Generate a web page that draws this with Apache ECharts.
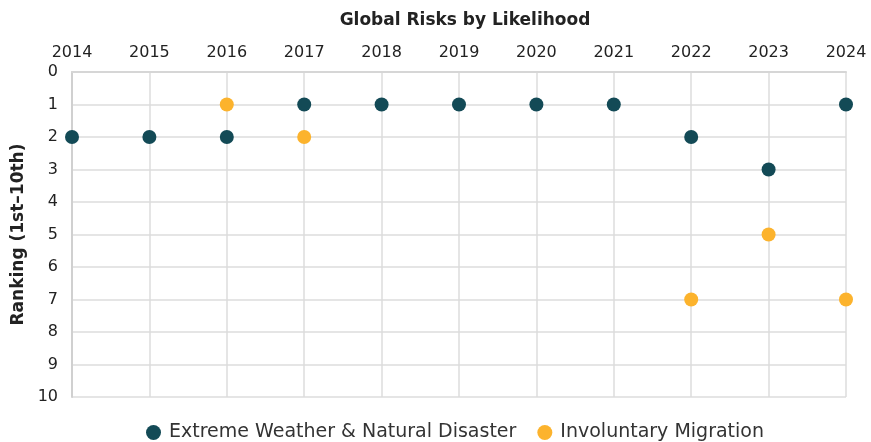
<!DOCTYPE html>
<html><head><meta charset="utf-8">
<script src="https://cdn.jsdelivr.net/npm/echarts@6/dist/echarts.min.js"></script>
<style>html,body{margin:0;padding:0;background:#fff}#c{width:871px;height:442px}</style>
</head><body><div id="c"></div>
<script>
const years = [2014,2015,2016,2017,2018,2019,2020,2021,2022,2023,2024];
const weatherYears = [2014,2015,2016,2017,2018,2019,2020,2021,2022,2023,2024];
const weatherRank = [2,2,2,1,1,1,1,1,2,3,1];
const migrationYears = [2016,2017,2022,2023,2024];
const migrationRank = [1,2,7,5,7];
const seriesNames = ['Extreme Weather & Natural Disaster','Involuntary Migration'];
const font = '"DejaVu Sans", sans-serif';
const chart = echarts.init(document.getElementById('c'));
chart.setOption({
  animation:false,
  title:{text:'Global Risks by Likelihood',left:460,textAlign:'center',top:7,textStyle:{fontFamily:font,fontSize:17,fontWeight:'bold',color:'#222'}},
  grid:{left:72,right:25,top:72,bottom:45,outerBoundsMode:'none',containLabel:false},
  legend:{top:418,left:141,padding:5,itemWidth:15,itemHeight:15,itemGap:21,icon:'circle',textStyle:{fontFamily:font,fontSize:19,color:'#333',padding:[0,0,0,3]}},
  xAxis:{type:'value',position:'top',min:2014,max:2024,interval:1,
    axisLine:{show:true,lineStyle:{color:'#d6d6d6',width:2}},axisTick:{show:false},
    axisLabel:{fontFamily:font,fontSize:16,color:'#222',margin:11,formatter:v=>String(v)},
    splitLine:{show:true,lineStyle:{color:'#dcdcdc',width:1.5}}},
  yAxis:{type:'value',inverse:true,min:0,max:10,interval:1,
    name:'Ranking (1st\u201310th)',nameLocation:'middle',nameGap:43,nameRotate:90,
    nameTextStyle:{fontFamily:font,fontSize:17,fontWeight:'bold',color:'#222'},
    axisLine:{show:true,lineStyle:{color:'#d0d0d0',width:2}},axisTick:{show:false},
    axisLabel:{fontFamily:font,fontSize:16,color:'#222',margin:14},
    splitLine:{show:true,lineStyle:{color:'#dcdcdc',width:1.5}}},
  series:[
    {name:seriesNames[0],type:'scatter',symbolSize:14,itemStyle:{color:'#134a56',opacity:1},
     data:weatherYears.map((y,i)=>[y,weatherRank[i]])},
    {name:seriesNames[1],type:'scatter',symbolSize:14,itemStyle:{color:'#fcb32d',opacity:1},
     data:migrationYears.map((y,i)=>[y,migrationRank[i]])}
  ]
});
</script></body></html>
